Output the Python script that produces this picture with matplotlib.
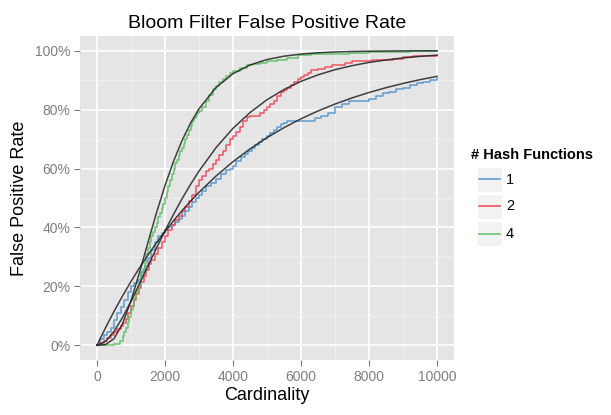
import matplotlib
matplotlib.use("Agg")
import matplotlib.pyplot as plt
from matplotlib.patches import Rectangle
from matplotlib.lines import Line2D
from matplotlib.ticker import MultipleLocator, FuncFormatter

plt.rcParams['font.family'] = ['Liberation Sans', 'DejaVu Sans']

# ---------------- data ----------------
title = "Bloom Filter False Positive Rate"
x_label = "Cardinality"
y_label = "False Positive Rate"
legend_title = "# Hash Functions"
series_labels = ["1", "2", "4"]

# empirical (step) series: cardinality and false positive rate (%)
k1_n = [0, 100, 200, 300, 400, 500, 600, 700, 800, 900, 1000, 1100, 1200, 1300, 1400,
        1500, 1600, 1700, 1800, 1900, 2000, 2100, 2200, 2300, 2400, 2500, 2600, 2700,
        2800, 2900, 3000, 3100, 3200, 3350, 3500, 3650, 3800, 3900, 4000, 4100, 4250,
        4350, 4450, 4550, 4650, 4750, 4850, 5000, 5100, 5200, 5300, 5400, 5500, 5600,
        5800, 6000, 6200, 6400, 6600, 6800, 7000, 7200, 7400, 7700, 8000, 8200, 8400,
        8600, 8800, 9000, 9200, 9400, 9600, 9800, 10000]
k1_fpr = [0, 2, 3.5, 4.5, 6, 8.5, 11, 13, 15.5, 18, 20, 21, 22, 25, 27,
          29.5, 32.5, 35, 37, 38, 39, 40, 41, 42, 43, 44, 45.5, 47,
          48.5, 50, 51, 52.5, 54, 55, 56.5, 58, 59.5, 60, 61, 62.5, 64,
          65, 66, 67, 68, 69, 70, 71, 72, 73, 74, 75, 75.5, 76,
          76, 76, 76, 77, 78, 79, 81, 82, 83, 83, 83.5, 84.5, 85.5,
          86, 87, 87.5, 88.5, 89, 89.5, 90, 90.7]

k2_n = [0, 100, 200, 300, 400, 500, 600, 700, 775, 850, 925, 1000, 1075, 1150, 1225,
        1300, 1375, 1450, 1525, 1600, 1700, 1800, 1900, 2000, 2100, 2200, 2300, 2400,
        2500, 2600, 2700, 2800, 2900, 3000, 3100, 3200, 3300, 3400, 3500, 3600, 3700,
        3800, 3900, 4000, 4100, 4200, 4300, 4400, 4500, 4650, 4800, 4900, 5000, 5100,
        5200, 5300, 5400, 5500, 5600, 5700, 5800, 5900, 6000, 6100, 6200, 6300, 6500,
        6700, 6900, 7100, 7300, 7500, 7800, 8100, 8400, 8700, 9000, 9300, 9600, 10000]
k2_fpr = [0, 0.7, 1.5, 2.5, 3.5, 4.5, 5.5, 6.5, 7.5, 9, 11, 13.5, 15.5, 17.5, 19.5,
          21.5, 23.5, 25.5, 27.5, 29, 31, 33, 35, 37, 39, 41, 42.5, 44,
          45.5, 47, 49, 51, 54, 56, 57.5, 59, 60, 61.5, 63, 64.5, 66,
          68, 70, 71, 72.5, 74, 76, 77.5, 78, 78, 79, 80, 81, 82,
          83, 84.5, 86, 86.5, 87.5, 88.5, 89.5, 90.3, 91, 91.7, 92.5, 93.5, 93.8,
          94.5, 95, 95.2, 95.8, 96.4, 96.6, 96.8, 96.9, 97.3, 97.8, 98.1, 98.3, 98.6]

k4_n = [0, 300, 500, 680, 750, 800, 850, 900, 950, 1000, 1050, 1100, 1150, 1200, 1250,
        1300, 1350, 1400, 1450, 1500, 1550, 1600, 1650, 1700, 1750, 1800, 1850, 1900,
        1950, 2000, 2050, 2100, 2150, 2200, 2250, 2300, 2350, 2400, 2450, 2500, 2550,
        2600, 2650, 2700, 2750, 2800, 2850, 2900, 2950, 3000, 3100, 3200, 3300, 3400,
        3500, 3600, 3700, 3800, 3900, 4000, 4200, 4400, 4600, 4800, 5000, 5300, 5600,
        5900, 6300, 6800, 7400, 8000, 8600, 9200, 10000]
k4_fpr = [0, 0, 0.5, 1.5, 3, 4.5, 6, 8, 9.5, 12, 13.5, 16, 18, 20, 22,
          24, 26, 28, 31, 33, 35, 37, 38.5, 40, 41.5, 43.5, 45, 46.5,
          48, 50, 52, 54, 56, 58, 60, 62, 63, 64.5, 66, 67, 68.5,
          70, 71.5, 73, 74.5, 76, 77, 78, 79, 79.5, 81, 83, 85, 87,
          88, 89.5, 90.5, 91.5, 92.3, 93, 94, 95, 95.5, 96, 96.4, 97, 97.5,
          98.5, 98.8, 99, 99.3, 99.5, 99.7, 99.8, 99.8]

# expected (smooth) curves
theory_n = [0, 250, 500, 750, 1000, 1250, 1500, 1750, 2000, 2250, 2500, 2750, 3000,
            3500, 4000, 4500, 5000, 5500, 6000, 6500, 7000, 7500, 8000, 8500, 9000,
            9500, 10000]
theory_k1 = [0, .0592, .1149, .1673, .2166, .2630, .3067, .3477, .3863, .4226, .4568,
             .4890, .5193, .5745, .6234, .6667, .7050, .7389, .7689, .7955, .8190,
             .8398, .8582, .8745, .8889, .9017, .9130]
theory_k2 = [0, .0132, .0469, .0941, .1492, .2087, .2697, .3300, .3886, .4444, .4970,
             .5460, .5912, .6708, .7365, .7901, .8336, .8683, .8961, .9181, .9356,
             .9493, .9602, .9687, .9755, .9808, .9849]
theory_k4 = [0, .0022, .0223, .0727, .1510, .2470, .3495, .4499, .5424, .6243, .6948,
             .7539, .8029, .8751, .9220, .9517, .9701, .9815, .9886, .9930, .9957,
             .9974, .9984, .9990, .9994, .9996, .9998]

colors = ["#4f94cd", "#ee4455", "#5cbf63"]

# ---------------- figure ----------------
fig = plt.figure(figsize=(6.11, 4.15), dpi=100)
ax = fig.add_axes([80 / 611, 55 / 415, 374 / 611, 324 / 415])
ax.set_facecolor("#E5E5E5")

emp = [(k1_n, k1_fpr), (k2_n, k2_fpr), (k4_n, k4_fpr)]
for (n, f), c in zip(emp, colors):
    ax.plot(n, [v / 100 for v in f], drawstyle="steps-post", color=c, lw=1.1,
            zorder=3, alpha=0.9)

for th in (theory_k1, theory_k2, theory_k4):
    ax.plot(theory_n, th, color="#222222", lw=1.1, alpha=0.85, zorder=4)

ax.set_xlim(-500, 10500)
ax.set_ylim(-0.05, 1.05)
ax.xaxis.set_major_locator(MultipleLocator(2000))
ax.xaxis.set_minor_locator(MultipleLocator(1000))
ax.yaxis.set_major_locator(MultipleLocator(0.2))
ax.yaxis.set_minor_locator(MultipleLocator(0.1))
ax.yaxis.set_major_formatter(FuncFormatter(lambda v, p: f"{v * 100:.0f}%"))

ax.grid(which="major", color="white", lw=1.2, zorder=1)
ax.grid(which="minor", color="#F2F2F2", lw=0.6, zorder=1)
ax.set_axisbelow(True)
for s in ax.spines.values():
    s.set_visible(False)
ax.tick_params(which="major", length=4, width=0.8, color="#7F7F7F",
               labelcolor="#7F7F7F", labelsize=10, pad=3)
ax.tick_params(which="minor", length=0)

ax.set_xlabel(x_label, fontsize=13, labelpad=2)
ax.set_ylabel(y_label, fontsize=13, labelpad=5)
ax.set_title(title, fontsize=14, pad=6)

# legend (ggplot-like)
W, H = 611, 415
def fx(px): return px / W
def fy(py): return 1 - py / H

fig.text(fx(471), fy(155), legend_title, fontsize=10.5, fontweight="bold",
         va="center", ha="left")
for i, (lab, c) in enumerate(zip(series_labels, colors)):
    top = 167 + i * 27
    fig.patches.append(Rectangle((fx(477), fy(top + 25)), 25 / W, 25 / H,
                                 transform=fig.transFigure, facecolor="#F2F2F2",
                                 edgecolor="white", lw=0.8))
    yc = top + 12.5
    fig.lines.append(Line2D([fx(479), fx(500)], [fy(yc), fy(yc)],
                            transform=fig.transFigure, color=c, lw=1.1))
    fig.text(fx(506), fy(yc), lab, fontsize=10.5, va="center", ha="left")

fig.savefig("out.png", dpi=100)
